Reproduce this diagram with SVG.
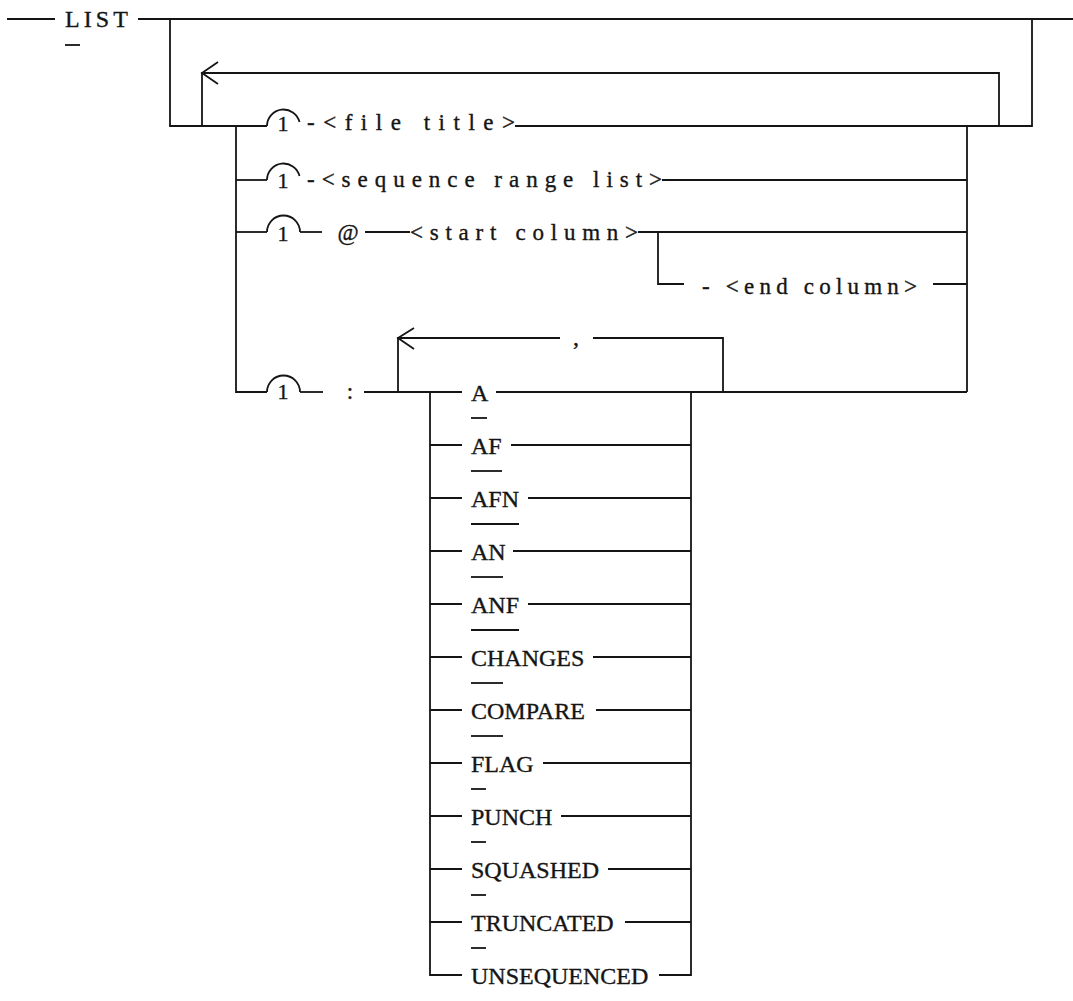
<svg xmlns="http://www.w3.org/2000/svg" width="1073" height="1001" viewBox="0 0 1073 1001">
<style>
.ln{fill:none;stroke:#151515;stroke-width:1.8;stroke-linejoin:miter}
.ul{fill:none;stroke:#151515;stroke-width:1.8}
.kw{font-family:"Liberation Serif","Times New Roman",serif;font-size:24px;fill:#151515;stroke:#151515;stroke-width:0.35}
.ph{font-family:"Liberation Serif","Times New Roman",serif;font-size:23px;fill:#151515;stroke:#151515;stroke-width:0.35}
.one{font-family:"Liberation Serif","Times New Roman",serif;font-size:22px;fill:#151515;stroke:#151515;stroke-width:0.35;text-anchor:middle}
</style>
<rect width="1073" height="1001" fill="#ffffff"/>
<g id="connectors">
  <path class="ln" d="M7,19 H55"/>
  <path class="ln" d="M138,19 H1073"/>
  <path class="ln" d="M170,19 V126 H267"/>
  <path class="ln" d="M1032,19 V126 H515"/>
  <path class="ln" d="M202,126 V73 H999 V126"/>
  <path class="ln" d="M218,62 L202,73 L218,84"/>
  <path class="ln" d="M236,126 V392 H267"/>
  <path class="ln" d="M967,126 V392"/>
  <path class="ln" d="M236,180 H267"/>
  <path class="ln" d="M236,232 H267"/>
  <path class="ln" d="M662,180 H967"/>
  <path class="ln" d="M300,232 H322"/>
  <path class="ln" d="M365,232 H410"/>
  <path class="ln" d="M638,232 H967"/>
  <path class="ln" d="M658,232 V284 H684"/>
  <path class="ln" d="M933,284 H967"/>
  <path class="ln" d="M300,392 H323"/>
  <path class="ln" d="M364,392 H462"/>
  <path class="ln" d="M398,392 V338 H560"/>
  <path class="ln" d="M593,338 H723 V392"/>
  <path class="ln" d="M414,328 L398,338 L414,349"/>
  <path class="ln" d="M496,392 H967"/>
  <path class="ln" d="M430,392 V975 H462"/>
  <path class="ln" d="M691,392 V975 H659"/>
  <path class="ln" d="M430,445 H462 M511,445 H691"/>
  <path class="ln" d="M430,498 H462 M528,498 H691"/>
  <path class="ln" d="M430,551 H462 M513,551 H691"/>
  <path class="ln" d="M430,604 H462 M528,604 H691"/>
  <path class="ln" d="M430,657 H462 M593,657 H691"/>
  <path class="ln" d="M430,710 H462 M596,710 H691"/>
  <path class="ln" d="M430,763 H462 M543,763 H691"/>
  <path class="ln" d="M430,816 H462 M561,816 H691"/>
  <path class="ln" d="M430,869 H462 M608,869 H691"/>
  <path class="ln" d="M430,922 H462 M625,922 H691"/>
</g>
<g id="n-list">
  <text class="kw" x="65" y="27" textLength="63" lengthAdjust="spacing">LIST</text>
  <path class="ul" d="M65,45 H80"/>
</g>
<g id="n-one-1">
  <path class="ln" d="M267,126 A16.5,16.5 0 0 1 299.5,122"/>
  <text class="one" x="283" y="131">1</text>
</g>
<g id="n-file-title">
  <text class="ph" x="307" y="130" textLength="208" lengthAdjust="spacing">-&lt;file title&gt;</text>
</g>
<g id="n-one-2">
  <path class="ln" d="M267,180 A16.5,16.5 0 0 1 299.5,176"/>
  <text class="one" x="283" y="188">1</text>
</g>
<g id="n-seq-range">
  <text class="ph" x="307" y="187" textLength="355" lengthAdjust="spacing">-&lt;sequence range list&gt;</text>
</g>
<g id="n-one-3">
  <path class="ln" d="M267,232 A16.5,16.5 0 0 1 300,232"/>
  <text class="one" x="283" y="241">1</text>
</g>
<g id="n-at">
  <text class="ph" x="348" y="240" text-anchor="middle">@</text>
</g>
<g id="n-start-col">
  <text class="ph" x="410" y="240" textLength="228" lengthAdjust="spacing">&lt;start column&gt;</text>
</g>
<g id="n-end-col">
  <text class="ph" x="702" y="294" textLength="215" lengthAdjust="spacing">- &lt;end column&gt;</text>
</g>
<g id="n-one-4">
  <path class="ln" d="M267,392 A16.5,16.5 0 0 1 300,392"/>
  <text class="one" x="283" y="399">1</text>
</g>
<g id="n-colon">
  <text class="ph" x="350" y="399" text-anchor="middle">:</text>
</g>
<g id="n-comma">
  <text class="kw" x="576" y="345" text-anchor="middle">,</text>
</g>
<g id="n-A"><text class="kw" x="471" y="401">A</text><path class="ul" d="M471,418 H487"/></g>
<g id="n-AF"><text class="kw" x="471" y="454">AF</text><path class="ul" d="M471,471 H502"/></g>
<g id="n-AFN"><text class="kw" x="471" y="507">AFN</text><path class="ul" d="M471,524 H519"/></g>
<g id="n-AN"><text class="kw" x="471" y="560">AN</text><path class="ul" d="M471,577 H503"/></g>
<g id="n-ANF"><text class="kw" x="471" y="613">ANF</text><path class="ul" d="M471,630 H519"/></g>
<g id="n-CHANGES"><text class="kw" x="471" y="666">CHANGES</text><path class="ul" d="M471,683 H503"/></g>
<g id="n-COMPARE"><text class="kw" x="471" y="719">COMPARE</text><path class="ul" d="M471,736 H503"/></g>
<g id="n-FLAG"><text class="kw" x="471" y="772">FLAG</text><path class="ul" d="M471,789 H486"/></g>
<g id="n-PUNCH"><text class="kw" x="471" y="825">PUNCH</text><path class="ul" d="M471,842 H486"/></g>
<g id="n-SQUASHED"><text class="kw" x="471" y="878">SQUASHED</text><path class="ul" d="M471,895 H486"/></g>
<g id="n-TRUNCATED"><text class="kw" x="471" y="931">TRUNCATED</text><path class="ul" d="M471,948 H486"/></g>
<g id="n-UNSEQUENCED"><text class="kw" x="471" y="984">UNSEQUENCED</text></g>
</svg>
